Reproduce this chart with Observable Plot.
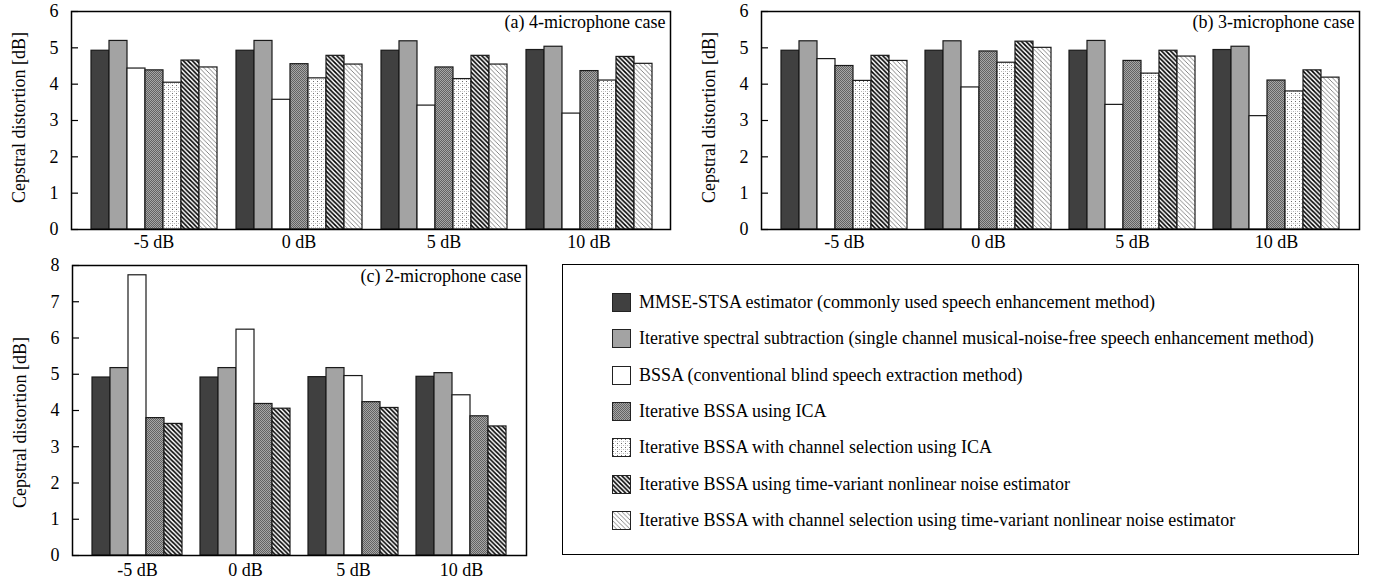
<!DOCTYPE html>
<html>
<head>
<meta charset="utf-8">
<script src="https://cdn.jsdelivr.net/npm/d3@7"></script>
<script src="https://cdn.jsdelivr.net/npm/@observablehq/plot@0.6"></script>
<style>
  body { margin: 0; background: #fff; overflow: hidden; }
  #root { position: relative; width: 1381px; height: 582px; font-family: 'Liberation Serif', 'Times New Roman', serif; color: #000; }
  .panel { position: absolute; }
  .panel svg.layer { position: absolute; left: 0; top: 0; }
  #legend { position: absolute; left: 562px; top: 264px; width: 797px; height: 291px; box-sizing: border-box; border: 1.3px solid #000; background: #fff; }
  .row { position: absolute; left: 0; height: 36px; display: flex; align-items: center; font-size: 18px; white-space: nowrap; }
  .row svg { margin-left: 49px; margin-right: 8px; display: block; }
</style>
</head>
<body>
<svg width="0" height="0" style="position:absolute">
  <defs>
    <pattern id="pICA" width="2" height="2" patternUnits="userSpaceOnUse">
      <rect x="0" y="0" width="2" height="2" fill="#a6a6a6"/>
      <rect x="0" y="0" width="1" height="1" fill="#626262"/>
      <rect x="1" y="1" width="1" height="1" fill="#626262"/>
    </pattern>
    <pattern id="pDot" width="4" height="4" patternUnits="userSpaceOnUse">
      <rect x="0" y="0" width="4" height="4" fill="#ffffff"/>
      <rect x="1" y="1" width="1" height="1" fill="#6a6a6a"/>
      <rect x="3" y="3" width="1" height="1" fill="#b8b8b8"/>
      <rect x="1" y="3" width="1" height="1" fill="#d0d0d0"/>
    </pattern>
    <pattern id="pThick" width="4.5" height="4.5" patternUnits="userSpaceOnUse">
      <rect x="0" y="0" width="4.5" height="4.5" fill="#ffffff"/>
      <path d="M-1,-1 L5.5,5.5 M-1,3.5 L1,5.5 M3.5,-1 L5.5,1" stroke="#000" stroke-width="1.6"/>
    </pattern>
    <pattern id="pThin" width="4.5" height="4.5" patternUnits="userSpaceOnUse">
      <rect x="0" y="0" width="4.5" height="4.5" fill="#ffffff"/>
      <path d="M-1,-1 L5.5,5.5 M-1,3.5 L1,5.5 M3.5,-1 L5.5,1" stroke="#7a7a7a" stroke-width="0.9"/>
    </pattern>
  </defs>
</svg>
<div id="root"></div>
<script>
const FONT = "'Liberation Serif', 'Times New Roman', serif";

// Categories
const conditions = ["-5 dB", "0 dB", "5 dB", "10 dB"];
const methods = [
  "MMSE-STSA estimator (commonly used speech enhancement method)",
  "Iterative spectral subtraction (single channel musical-noise-free speech enhancement method)",
  "BSSA (conventional blind speech extraction method)",
  "Iterative BSSA using ICA",
  "Iterative BSSA with channel selection using ICA",
  "Iterative BSSA using time-variant nonlinear noise estimator",
  "Iterative BSSA with channel selection using time-variant nonlinear noise estimator"
];
const methodFills = ["#404040", "#a3a3a3", "#ffffff", "url(#pICA)", "url(#pDot)", "url(#pThick)", "url(#pThin)"];

// (a) 4-microphone case: rows = methods, columns = conditions
const mic4Values = [
  [4.92, 4.92, 4.92, 4.94],
  [5.19, 5.19, 5.18, 5.03],
  [4.43, 3.57, 3.41, 3.19],
  [4.38, 4.55, 4.46, 4.36],
  [4.04, 4.16, 4.14, 4.10],
  [4.65, 4.78, 4.78, 4.75],
  [4.46, 4.54, 4.54, 4.56]
];
// (b) 3-microphone case
const mic3Values = [
  [4.92, 4.92, 4.92, 4.94],
  [5.18, 5.18, 5.19, 5.03],
  [4.69, 3.91, 3.43, 3.12],
  [4.50, 4.90, 4.64, 4.10],
  [4.09, 4.59, 4.29, 3.80],
  [4.78, 5.17, 4.92, 4.38],
  [4.64, 5.00, 4.76, 4.18]
];
// (c) 2-microphone case (methods 0,1,2,3,5)
const mic2Methods = [0, 1, 2, 3, 5];
const mic2Values = [
  [4.91, 4.91, 4.92, 4.93],
  [5.17, 5.17, 5.17, 5.03],
  [7.73, 6.23, 4.95, 4.42],
  [3.79, 4.18, 4.23, 3.84],
  [3.63, 4.05, 4.07, 3.56]
];
const yTicks6 = [0, 1, 2, 3, 4, 5, 6];
const yTicks8 = [0, 1, 2, 3, 4, 5, 6, 7, 8];
const yLabel = "Cepstral distortion [dB]";
const titles = ["(a) 4-microphone case", "(b) 3-microphone case", "(c) 2-microphone case"];

const fillOf = Object.fromEntries(methods.map((m, i) => [m, methodFills[i]]));

function build(methodIdx, values) {
  return methodIdx.flatMap((mi, r) => conditions.map((c, ci) => ({cond: c, method: methods[mi], value: values[r][ci]})));
}

function panel(o) {
  const frameW = o.width - o.ml - o.mr;
  const common = {
    width: o.width, height: o.height,
    marginLeft: o.ml, marginRight: o.mr, marginTop: o.mt, marginBottom: o.mb,
    style: {fontFamily: FONT, fontSize: "18px", background: "transparent", color: "#000", overflow: "visible"}
  };
  // Layer 1: faceted bars with condition labels
  const bars = Plot.plot({
    ...common,
    fx: {domain: conditions, paddingInner: o.fxPad, paddingOuter: o.fxPad, label: null},
    x: {domain: o.methods, padding: 0, axis: null},
    y: {domain: [0, o.yMax], axis: null},
    color: {type: "identity"},
    marks: [
      Plot.barY(o.data, {fx: "cond", x: "method", y: "value", fill: d => fillOf[d.method], stroke: "#1a1a1a", strokeWidth: 1.2}),
      Plot.axisFx({anchor: "bottom", tickSize: 0, tickPadding: o.xPad, fontSize: 18, label: null})
    ]
  });
  // Layer 2: frame, y ticks, labels (same y scale)
  const overlay = Plot.plot({
    ...common,
    y: {domain: [0, o.yMax], axis: null},
    marks: [
      Plot.tickY(o.ticks, {y: d => d, insetRight: frameW - 7, stroke: "#000", strokeWidth: 1.2}),
      Plot.text(o.ticks, {y: d => d, text: d => String(d), frameAnchor: "left", textAnchor: "end", dx: -13, fontSize: 18}),
      Plot.text([yLabel], {text: d => d, frameAnchor: "left", rotate: -90, textAnchor: "middle", dx: o.ylDx, dy: o.ylDy, fontSize: 18}),
      Plot.text([o.title], {text: d => d, frameAnchor: "top-right", textAnchor: "end", lineAnchor: "top", dx: -5, dy: o.tDy, fontSize: 18}),
      Plot.frame({stroke: "#000", strokeWidth: 1.5})
    ]
  });
  const d = document.createElement("div");
  d.className = "panel";
  d.style.width = o.width + "px";
  d.style.height = o.height + "px";
  bars.classList.add("layer");
  overlay.classList.add("layer");
  d.appendChild(bars);
  d.appendChild(overlay);
  return d;
}

const root = document.getElementById("root");
function place(node, left, top) {
  node.style.left = left + "px";
  node.style.top = top + "px";
  root.appendChild(node);
}

const all7 = [0, 1, 2, 3, 4, 5, 6];
place(panel({
  data: build(all7, mic4Values), methods: all7.map(i => methods[i]), yMax: 6, ticks: yTicks6, title: titles[0],
  width: 690, height: 262, ml: 71, mr: 20, mt: 11, mb: 33, fxPad: 0.127, xPad: 6, ylDx: -52, ylDy: -3, tDy: 3.5
}), 0, 0);
place(panel({
  data: build(all7, mic3Values), methods: all7.map(i => methods[i]), yMax: 6, ticks: yTicks6, title: titles[1],
  width: 691, height: 262, ml: 71, mr: 22, mt: 11, mb: 33, fxPad: 0.127, xPad: 6, ylDx: -52, ylDy: -3, tDy: 3.5
}), 690, 0);
place(panel({
  data: build(mic2Methods, mic2Values), methods: mic2Methods.map(i => methods[i]), yMax: 8, ticks: yTicks8, title: titles[2],
  width: 545, height: 332, ml: 72, mr: 19, mt: 15, mb: 27, fxPad: 0.17, xPad: 8, ylDx: -52.5, ylDy: 12, tDy: 3.3
}), 0, 250);

// Legend
const legend = document.createElement("div");
legend.id = "legend";
methods.forEach((m, i) => {
  const row = document.createElement("div");
  row.className = "row";
  row.style.top = (19.5 + i * 36.3) + "px";
  row.innerHTML = `<svg width="19" height="19"><rect x="0.5" y="0.5" width="18" height="18" fill="${methodFills[i]}" stroke="#222" stroke-width="1"/></svg><span>${m}</span>`;
  legend.appendChild(row);
});
root.appendChild(legend);
</script>
</body>
</html>
